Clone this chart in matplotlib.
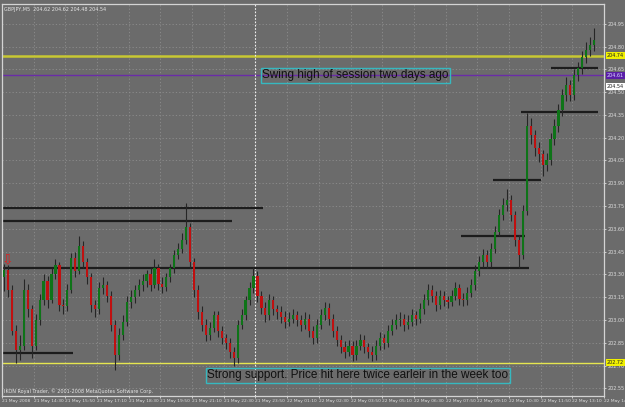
import numpy as np
import matplotlib
matplotlib.use("Agg")
import matplotlib.pyplot as plt
from matplotlib.transforms import blended_transform_factory

# GBPJPY M5, 21-22 May 2008 (one candle per slot)
opens = [
    203.28, 203.33, 203.20, 202.93, 202.80, 202.83, 203.20, 203.07, 202.83, 203.00,
    203.13, 203.26, 203.13, 203.30, 203.36, 203.10, 203.09, 203.20, 203.41, 203.32,
    203.49, 203.38, 203.28, 203.10, 203.07, 203.21, 203.23, 203.16, 202.97, 202.77,
    202.90, 202.99, 203.12, 203.15, 203.20, 203.23, 203.26, 203.30, 203.23, 203.34,
    203.24, 203.22, 203.28, 203.34, 203.43, 203.47, 203.53, 203.61, 203.38, 203.20,
    203.05, 202.97, 202.90, 202.95, 203.03, 202.93, 202.88, 202.85, 202.79, 202.75,
    202.97, 203.03, 203.13, 203.21, 203.29, 203.16, 203.08, 203.03, 203.13, 203.07,
    203.05, 203.02, 202.99, 203.01, 203.03, 203.00, 202.97, 203.01, 202.93, 202.88,
    202.97, 203.03, 203.08, 203.01, 202.93, 202.87, 202.82, 202.79, 202.83, 202.77,
    202.83, 202.87, 202.82, 202.79, 202.77, 202.83, 202.88, 202.85, 202.93, 202.97,
    203.00, 203.01, 202.97, 202.99, 203.03, 203.01, 203.07, 203.13, 203.20, 203.16,
    203.10, 203.16, 203.13, 203.12, 203.16, 203.21, 203.14, 203.13, 203.18, 203.23,
    203.32, 203.38, 203.43, 203.38, 203.47, 203.58, 203.69, 203.76, 203.79, 203.69,
    203.53, 203.43, 203.72, 204.28, 204.22, 204.13, 204.09, 204.02, 204.05, 204.19,
    204.28, 204.38, 204.48, 204.55, 204.48, 204.61, 204.66, 204.73, 204.78, 204.81,
]
highs = [
    203.37, 203.36, 203.23, 202.97, 202.90, 203.27, 203.24, 203.10, 203.04, 203.17,
    203.30, 203.29, 203.34, 203.40, 203.38, 203.14, 203.24, 203.44, 203.45, 203.55,
    203.52, 203.41, 203.31, 203.13, 203.25, 203.28, 203.26, 203.19, 203.00, 202.95,
    203.03, 203.16, 203.20, 203.23, 203.27, 203.30, 203.33, 203.34, 203.40, 203.37,
    203.28, 203.31, 203.37, 203.46, 203.51, 203.57, 203.77, 203.64, 203.41, 203.23,
    203.09, 203.01, 202.99, 203.06, 203.06, 202.96, 202.91, 202.88, 202.82, 203.00,
    203.07, 203.16, 203.25, 203.35, 203.32, 203.19, 203.12, 203.17, 203.16, 203.10,
    203.09, 203.06, 203.05, 203.07, 203.06, 203.03, 203.05, 203.04, 202.96, 203.01,
    203.07, 203.12, 203.11, 203.04, 202.96, 202.90, 202.86, 202.87, 202.86, 202.87,
    202.91, 202.90, 202.85, 202.83, 202.87, 202.92, 202.91, 202.97, 203.01, 203.04,
    203.05, 203.04, 203.03, 203.07, 203.06, 203.11, 203.17, 203.24, 203.23, 203.19,
    203.20, 203.19, 203.16, 203.20, 203.25, 203.24, 203.18, 203.22, 203.27, 203.36,
    203.42, 203.47, 203.46, 203.51, 203.62, 203.73, 203.80, 203.86, 203.82, 203.72,
    203.56, 203.76, 204.36, 204.33, 204.25, 204.17, 204.12, 204.10, 204.23, 204.32,
    204.42, 204.52, 204.60, 204.58, 204.65, 204.70, 204.77, 204.83, 204.86, 204.92,
]
lows = [
    203.19, 203.15, 202.90, 202.72, 202.74, 202.80, 203.02, 202.75, 202.80, 202.97,
    203.10, 203.08, 203.11, 203.27, 203.06, 203.04, 203.06, 203.18, 203.28, 203.30,
    203.34, 203.24, 203.05, 203.02, 203.04, 203.17, 203.12, 202.93, 202.67, 202.74,
    202.87, 202.96, 203.08, 203.11, 203.16, 203.19, 203.22, 203.19, 203.21, 203.20,
    203.18, 203.19, 203.25, 203.31, 203.40, 203.44, 203.50, 203.34, 203.15, 203.01,
    202.93, 202.86, 202.87, 202.92, 202.89, 202.84, 202.81, 202.75, 202.70, 202.72,
    202.94, 203.00, 203.10, 203.18, 203.12, 203.04, 202.99, 203.00, 203.03, 203.01,
    202.98, 202.95, 202.96, 202.98, 202.96, 202.93, 202.94, 202.89, 202.84, 202.85,
    202.94, 203.00, 202.97, 202.89, 202.83, 202.78, 202.75, 202.76, 202.73, 202.74,
    202.80, 202.78, 202.75, 202.73, 202.74, 202.80, 202.81, 202.82, 202.90, 202.94,
    202.96, 202.93, 202.94, 202.96, 202.97, 202.98, 203.04, 203.10, 203.12, 203.06,
    203.07, 203.09, 203.08, 203.09, 203.13, 203.10, 203.09, 203.10, 203.15, 203.20,
    203.29, 203.35, 203.34, 203.35, 203.44, 203.55, 203.66, 203.72, 203.65, 203.49,
    203.34, 203.40, 203.69, 204.16, 204.08, 204.04, 203.95, 203.98, 204.02, 204.15,
    204.24, 204.34, 204.44, 204.44, 204.45, 204.57, 204.62, 204.69, 204.74, 204.77,
]
closes = [
    203.33, 203.20, 202.93, 202.80, 202.83, 203.20, 203.07, 202.83, 203.00, 203.13,
    203.26, 203.13, 203.30, 203.36, 203.10, 203.09, 203.20, 203.41, 203.32, 203.49,
    203.38, 203.28, 203.10, 203.07, 203.21, 203.23, 203.16, 202.97, 202.77, 202.90,
    202.99, 203.12, 203.15, 203.20, 203.23, 203.26, 203.30, 203.23, 203.34, 203.24,
    203.22, 203.28, 203.34, 203.43, 203.47, 203.53, 203.61, 203.38, 203.20, 203.05,
    202.97, 202.90, 202.95, 203.03, 202.93, 202.88, 202.85, 202.79, 202.75, 202.97,
    203.03, 203.13, 203.21, 203.29, 203.16, 203.08, 203.03, 203.13, 203.07, 203.05,
    203.02, 202.99, 203.01, 203.03, 203.00, 202.97, 203.01, 202.93, 202.88, 202.97,
    203.03, 203.08, 203.01, 202.93, 202.87, 202.82, 202.79, 202.83, 202.77, 202.83,
    202.87, 202.82, 202.79, 202.77, 202.83, 202.88, 202.85, 202.93, 202.97, 203.00,
    203.01, 202.97, 202.99, 203.03, 203.01, 203.07, 203.13, 203.20, 203.16, 203.10,
    203.16, 203.13, 203.12, 203.16, 203.21, 203.14, 203.13, 203.18, 203.23, 203.32,
    203.38, 203.43, 203.38, 203.47, 203.58, 203.69, 203.76, 203.79, 203.69, 203.53,
    203.43, 203.72, 204.28, 204.22, 204.13, 204.09, 204.02, 204.05, 204.19, 204.28,
    204.38, 204.48, 204.55, 204.48, 204.61, 204.66, 204.73, 204.78, 204.81, 204.84,
]

time_labels = ["21 May 2008", "21 May 14:30", "21 May 15:50", "21 May 17:10", "21 May 18:30",
               "21 May 19:50", "21 May 21:10", "21 May 22:30", "21 May 23:50", "22 May 01:10",
               "22 May 02:30", "22 May 03:50", "22 May 05:10", "22 May 06:30", "22 May 07:50",
               "22 May 09:10", "22 May 10:30", "22 May 11:50", "22 May 13:10", "22 May 14:30"]
price_ticks = [202.55, 202.70, 202.85, 203.00, 203.15, 203.30, 203.45, 203.60, 203.75,
               203.90, 204.05, 204.20, 204.35, 204.50, 204.65, 204.80, 204.95]

# support / resistance segments drawn by hand: (price, first bar, last bar)
sr_lines = [(203.74, -0.5, 65.5), (203.65, -0.5, 57.5), (203.34, -0.5, 132.5),
            (202.78, -0.5, 17.5), (203.55, 115.5, 131.5), (203.92, 123.5, 135.5),
            (204.37, 130.5, 150), (204.66, 138, 150)]
swing_high = 204.74      # yellow line top
prev_high = 204.61       # purple line
bid = 204.54
support = 202.72         # yellow line bottom
marker_bar = 63.5        # white dotted separator
arrow_bar, arrow_price = 0.9, 203.35

BG = "#6b6b6b"
FS = 3.2
n = len(closes)
x = np.arange(n)
o = np.array(opens); c = np.array(closes); h = np.array(highs); l = np.array(lows)
up = c >= o

fig = plt.figure(figsize=(6.25, 4.07), dpi=100, facecolor=BG)
ax = fig.add_axes([2 / 625, 11 / 407, 602 / 625, 392 / 407])
ax.set_facecolor(BG)

# grid
ax.set_xlim(-0.5, 150)
ax.set_ylim(202.50, 205.08)
tick_pos = [-0.5 + 8 * k for k in range(len(time_labels))]
ax.set_xticks(tick_pos)
ax.set_xticklabels(time_labels, fontsize=FS, color="#dddddd", ha="left")
ax.yaxis.tick_right()
ax.set_yticks(price_ticks)
ax.set_yticklabels(["%.2f" % p for p in price_ticks], fontsize=FS + 0.3, color="#dddddd")
ax.tick_params(axis="both", length=1.5, width=0.6, color="#dddddd", pad=1)
ax.grid(True, color="#8e8e8e", linestyle=(0, (1.5, 2.5)), linewidth=0.6)
ax.set_axisbelow(True)
for s in ax.spines.values():
    s.set_color("#d4d4d4")
    s.set_linewidth(0.9)

# horizontal levels
ax.axhline(swing_high, color="#c8c832", lw=1.8, zorder=2)
ax.axhline(prev_high, color="#6a2ca8", lw=1.0, zorder=2)
ax.axhline(support, color="#e6e650", lw=1.0, zorder=2)
ax.axvline(marker_bar, color="#f0f0f0", lw=0.8, ls=(0, (1.5, 1.5)), zorder=2)
for p, x0, x1 in sr_lines:
    ax.hlines(p, x0, x1, color="#1c1c1c", lw=1.6, zorder=2)

# candles
ax.vlines(x, l, h, color="#262626", lw=0.8, zorder=3)
body_lo = np.minimum(o, c)
body_h = np.maximum(np.abs(c - o), 0.004)
ax.bar(x[up], body_h[up], bottom=body_lo[up], width=0.55, color="#0e7418", lw=0, zorder=4)
ax.bar(x[~up], body_h[~up], bottom=body_lo[~up], width=0.55, color="#c01010", lw=0, zorder=4)

ax.text(arrow_bar, arrow_price, "\u21e9", color="#e02020", fontsize=10, ha="center",
        va="bottom", zorder=5)

# price labels on the right scale
tr = blended_transform_factory(ax.transAxes, ax.transData)
for p, fc, tc in [(swing_high, "#f0f000", "#202020"), (prev_high, "#5a1ea8", "#d8d8ff"),
                  (bid, "#ffffff", "#202020"), (support, "#f0f000", "#202020")]:
    ax.text(1.005, p, "%.2f" % p, transform=tr, fontsize=FS + 0.3, color=tc, va="center",
            ha="left", clip_on=False, zorder=6,
            bbox=dict(boxstyle="square,pad=0.2", fc=fc, ec="none"))

# annotations
box = dict(boxstyle="square,pad=0.12", fc="none", ec="#36b8c0", lw=1.0)
ax.text(88.8, 204.61, "Swing high of session two days ago", fontsize=8.5,
        family="Liberation Sans", color="#111111", ha="center", va="center", bbox=box, zorder=6)
ax.text(89.3, 202.635, "Strong support. Price hit here twice earleir in the week too", fontsize=8.5,
        family="Liberation Sans", color="#111111", ha="center", va="center", bbox=box, zorder=6)

ax.text(0.004, 0.992, "GBPJPY,M5  204.62 204.62 204.48 204.54", transform=ax.transAxes,
        fontsize=FS + 0.3, color="#e6e6e6", va="top", ha="left")
ax.text(0.004, 0.004, "IKON Royal Trader, \u00a9 2001-2008 MetaQuotes Software Corp.",
        transform=ax.transAxes, fontsize=FS + 0.3, color="#e6e6e6", va="bottom", ha="left")

fig.savefig("out.png", dpi=100, facecolor=BG)
